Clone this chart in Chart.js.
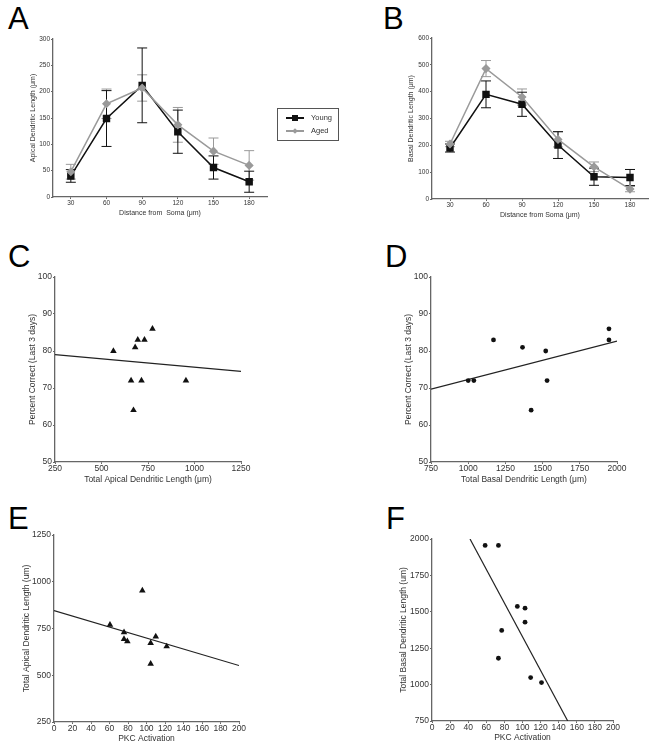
<!DOCTYPE html>
<html>
<head>
<meta charset="utf-8">
<script src="https://cdn.jsdelivr.net/npm/chart.js@4.4.1/dist/chart.umd.min.js"></script>
<style>
  body { margin: 0; background: #fff; }
  #page { position: relative; width: 654px; height: 755px; overflow: hidden; }
  canvas { position: absolute; }
  .letter { position: absolute; font-family: "Liberation Sans", Arial, sans-serif; font-size: 31px; line-height: 31px; color: #000; }
  #legend { position: absolute; left: 277px; top: 108px; width: 60px; height: 31px; border: 1px solid #555;
            font-family: "Liberation Sans", Arial, sans-serif; font-size: 7.5px; color: #333; }
  .row { position: absolute; left: 8px; height: 10px; width: 50px; }
  .row .ln { position: absolute; left: 0; top: 4px; width: 18px; height: 1.5px; }
  .row .mk { position: absolute; }
  .row span { position: absolute; left: 25px; top: 0; line-height: 10px; }
</style>
</head>
<body>
<div id="page">
  <div class="letter" style="left:8px;top:3px">A</div>
  <div class="letter" style="left:383px;top:3px">B</div>
  <div class="letter" style="left:8px;top:241px">C</div>
  <div class="letter" style="left:385px;top:241px">D</div>
  <div class="letter" style="left:8px;top:503px">E</div>
  <div class="letter" style="left:386px;top:503px">F</div>

  <canvas id="chartA" width="282" height="188" style="left:0px;top:29px"></canvas>
  <canvas id="chartB" width="274" height="191" style="left:380px;top:28px"></canvas>
  <canvas id="chartC" width="256" height="218" style="left:0px;top:267px"></canvas>
  <canvas id="chartD" width="256" height="218" style="left:376px;top:267px"></canvas>
  <canvas id="chartE" width="251" height="219" style="left:0px;top:525px"></canvas>
  <canvas id="chartF" width="248" height="214" style="left:377px;top:529px"></canvas>

  <div id="legend">
    <div class="row" style="top:4px">
      <div class="ln" style="background:#111"></div>
      <div class="mk" style="left:6px;top:1.5px;width:6px;height:6px;background:#111"></div>
      <span>Young</span>
    </div>
    <div class="row" style="top:17px">
      <div class="ln" style="background:#9a9a9a"></div>
      <div class="mk" style="left:7px;top:2.5px;width:4px;height:4px;background:#9a9a9a;transform:rotate(45deg)"></div>
      <span>Aged</span>
    </div>
  </div>
</div>

<script>
// A / B: dendritic length vs distance from soma
var distances = ['30', '60', '90', '120', '150', '180'];
var apicalYoung = [40, 149, 212, 124, 56, 29];
var apicalYoungErr = [12, 53, 71, 41, 22, 20];
var apicalAged = [48, 177, 207, 137, 87, 60];
var apicalAgedErr = [14, 28, 25, 33, 25, 28];
var basalYoung = [190, 390, 353, 201, 83, 80];
var basalYoungErr = [15, 50, 45, 50, 32, 30];
var basalAged = [205, 486, 380, 222, 120, 37];
var basalAgedErr = [10, 30, 30, 28, 18, 10];

// C: total apical length vs percent correct
var apicalTotalC = [564, 681, 695, 731, 774, 659, 715, 672, 954];
var percentC = [80, 81, 83, 83, 86, 72, 72, 64, 72];
var fitCx = [250, 1250];
var fitCy = [79, 74.5];

// D: total basal length vs percent correct
var basalTotalD = [1000, 1038, 1170, 1365, 1521, 1530, 1423, 1946, 1946];
var percentD = [72, 72, 83, 81, 80, 72, 64, 86, 83];
var fitDx = [750, 2000];
var fitDy = [69.7, 82.7];

// E: PKC activation vs total apical length
var pkcE = [60.5, 75.7, 75.7, 79.3, 95.5, 104.5, 110, 121.8, 104.5];
var apicalTotalE = [770, 730, 693, 681, 953, 672, 707, 654, 561];
var fitEx = [0, 200];
var fitEy = [846, 552];

// F: PKC activation vs total basal length
var pkcF = [58.7, 73.4, 94.3, 102.8, 102.8, 77, 73.4, 109, 121];
var basalTotalF = [1956, 1956, 1537, 1525, 1429, 1372, 1181, 1048, 1014];
var fitFx = [42, 150];
var fitFy = [2000, 750];

Chart.defaults.font.family = '"Liberation Sans", Arial, sans-serif';
Chart.defaults.color = '#333';
Chart.defaults.animation = false;

var AXIS = '#666';

function pairs(xs, ys) {
    return xs.map(function(x, i){ return {x: x, y: ys[i]}; });
}

function plain(v) { return String(v); }

// draws +/- error bars using the y scale
var errorBars = {
    id: 'errorBars',
    beforeDatasetsDraw: function(chart) {
        var ctx = chart.ctx;
        var yScale = chart.scales.y;
        chart.data.datasets.forEach(function(ds, i){
            if (!ds.errors) return;
            var meta = chart.getDatasetMeta(i);
            ctx.save();
            ctx.strokeStyle = ds.borderColor;
            ctx.lineWidth = 1;
            meta.data.forEach(function(pt, j){
                var top = yScale.getPixelForValue(ds.data[j] + ds.errors[j]);
                var bot = yScale.getPixelForValue(ds.data[j] - ds.errors[j]);
                ctx.beginPath();
                ctx.moveTo(pt.x, top); ctx.lineTo(pt.x, bot);
                ctx.moveTo(pt.x - 5, top); ctx.lineTo(pt.x + 5, top);
                ctx.moveTo(pt.x - 5, bot); ctx.lineTo(pt.x + 5, bot);
                ctx.stroke();
            });
            ctx.restore();
        });
    }
};

function yAxis(opts) {
    return {
        type: 'linear',
        min: opts.min, max: opts.max,
        afterFit: function(s){ s.width = opts.width; },
        border: {display: true, color: AXIS, width: 1.3},
        grid: {drawOnChartArea: false, drawTicks: true, tickLength: 2, color: AXIS},
        ticks: {stepSize: opts.step, padding: 1, font: {size: opts.tickSize}, callback: plain},
        title: {display: true, text: opts.title, font: {size: opts.titleSize}, padding: {top: opts.titlePad, bottom: 0}}
    };
}

function xAxis(opts) {
    var a = {
        type: opts.type || 'linear',
        afterFit: function(s){ s.height = opts.height; },
        border: {display: true, color: AXIS, width: 1.3},
        grid: {drawOnChartArea: false, drawTicks: true, tickLength: 2, color: AXIS, offset: false},
        ticks: {padding: 0, autoSkip: false, maxRotation: 0, font: {size: opts.tickSize}},
        title: {display: true, text: opts.title, font: {size: opts.titleSize}, padding: {top: 0, bottom: 0}}
    };
    if (a.type === 'linear') {
        a.min = opts.min; a.max = opts.max;
        a.ticks.stepSize = opts.step;
        a.ticks.callback = plain;
    } else {
        a.offset = true;
    }
    return a;
}

function lineChart(id, young, youngErr, aged, agedErr, yOpts, xOpts, pad) {
    return new Chart(document.getElementById(id), {
        type: 'line',
        data: {
            labels: distances,
            datasets: [{
                label: 'Aged', data: aged, errors: agedErr,
                borderColor: '#9a9a9a', backgroundColor: '#9a9a9a', borderWidth: 1.5,
                pointStyle: 'rectRot', pointRadius: 3.5, tension: 0
            }, {
                label: 'Young', data: young, errors: youngErr,
                borderColor: '#111', backgroundColor: '#111', borderWidth: 1.5,
                pointStyle: 'rect', pointRadius: 4.2, tension: 0
            }]
        },
        options: {
            responsive: false,
            layout: {padding: pad},
            plugins: {legend: {display: false}, tooltip: {enabled: false}},
            scales: {x: xAxis(xOpts), y: yAxis(yOpts)}
        },
        plugins: [errorBars]
    });
}

function scatterChart(id, xs, ys, fx, fy, style, radius, yOpts, xOpts, pad) {
    return new Chart(document.getElementById(id), {
        type: 'scatter',
        data: {
            datasets: [{
                data: pairs(xs, ys),
                pointStyle: style, pointRadius: radius,
                backgroundColor: '#111', borderColor: '#111', borderWidth: 0
            }, {
                data: pairs(fx, fy), showLine: true,
                borderColor: '#222', borderWidth: 1.2, pointRadius: 0
            }]
        },
        options: {
            responsive: false,
            layout: {padding: pad},
            plugins: {legend: {display: false}, tooltip: {enabled: false}},
            scales: {x: xAxis(xOpts), y: yAxis(yOpts)}
        }
    });
}

lineChart('chartA', apicalYoung, apicalYoungErr, apicalAged, apicalAgedErr,
    {min: 0, max: 300, step: 50, width: 53, tickSize: 6.5, titleSize: 7, title: 'Apical Dendritic Length (\u03bcm)', titlePad: 29},
    {type: 'category', height: 20, tickSize: 6.5, titleSize: 7, title: 'Distance from  Soma (\u03bcm)'},
    {top: 10, right: 15, left: 0, bottom: 0});

lineChart('chartB', basalYoung, basalYoungErr, basalAged, basalAgedErr,
    {min: 0, max: 600, step: 100, width: 52, tickSize: 6.5, titleSize: 7, title: 'Basal Dendritic Length (\u03bcm)', titlePad: 27},
    {type: 'category', height: 20, tickSize: 6.5, titleSize: 7, title: 'Distance from Soma (\u03bcm)'},
    {top: 10, right: 6, left: 0, bottom: 0});

scatterChart('chartC', apicalTotalC, percentC, fitCx, fitCy, 'triangle', 3.8,
    {min: 50, max: 100, step: 10, width: 55, tickSize: 8.5, titleSize: 8.5, title: 'Percent Correct (Last 3 days)', titlePad: 28},
    {min: 250, max: 1250, step: 250, height: 23, tickSize: 8.5, titleSize: 8.5, title: 'Total Apical Dendritic Length (\u03bcm)'},
    {top: 10, right: 15, left: 0, bottom: 0});

scatterChart('chartD', basalTotalD, percentD, fitDx, fitDy, 'circle', 2.4,
    {min: 50, max: 100, step: 10, width: 55, tickSize: 8.5, titleSize: 8.5, title: 'Percent Correct (Last 3 days)', titlePad: 28},
    {min: 750, max: 2000, step: 250, height: 23, tickSize: 8.5, titleSize: 8.5, title: 'Total Basal Dendritic Length (\u03bcm)'},
    {top: 10, right: 15, left: 0, bottom: 0});

scatterChart('chartE', pkcE, apicalTotalE, fitEx, fitEy, 'triangle', 3.8,
    {min: 250, max: 1250, step: 250, width: 54, tickSize: 8.5, titleSize: 8.5, title: 'Total Apical Dendritic Length (um)', titlePad: 22},
    {min: 0, max: 200, step: 20, height: 22, tickSize: 8.5, titleSize: 8.5, title: 'PKC Activation'},
    {top: 10, right: 12, left: 0, bottom: 0});

scatterChart('chartF', pkcF, basalTotalF, fitFx, fitFy, 'circle', 2.4,
    {min: 750, max: 2000, step: 250, width: 55, tickSize: 8.5, titleSize: 8.5, title: 'Total Basal Dendritic Length (um)', titlePad: 22},
    {min: 0, max: 200, step: 20, height: 22, tickSize: 8.5, titleSize: 8.5, title: 'PKC Activation'},
    {top: 10, right: 12, left: 0, bottom: 0});
</script>
</body>
</html>
